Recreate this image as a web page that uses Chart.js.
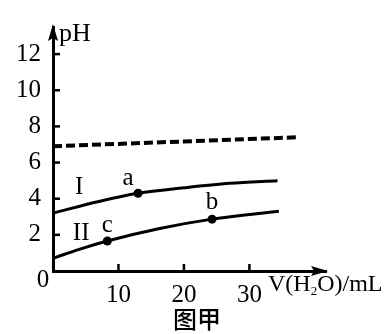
<!DOCTYPE html>
<html>
<head>
<meta charset="utf-8">
<script src="https://cdn.jsdelivr.net/npm/chart.js@4/dist/chart.umd.min.js"></script>
<style>
html,body{margin:0;padding:0;background:#fff;}
#wrap{width:388px;height:334px;position:relative;}
</style>
</head>
<body>
<div id="wrap"><canvas id="c" width="388" height="334"></canvas></div>
<script>
// ---- data ----
const volI  = [0, 7, 13, 20, 27, 34.3];
const phI   = [3.2, 3.85, 4.3, 4.6, 4.85, 5.0];
const volII = [0, 4, 8.3, 16.3, 24.3, 34.5];
const phII  = [0.7, 1.2, 1.66, 2.35, 2.87, 3.3];
const neutralVol = [0, 37.4];
const neutralPh  = [6.9, 7.4];
const markNames = ['a', 'b', 'c'];
const markVol   = [13, 24.3, 8.3];
const markPh    = [4.3, 2.87, 1.66];
const curveNames = ['I', 'II'];
const curveLabelVol = [4.0, 4.3];
const curveLabelPh  = [4.6, 2.1];
const xTicks = [10, 20, 30];
const yTicks = [0, 2, 4, 6, 8, 10, 12];
const xMax = 41.7, yMax = 13.5;
const yTitle = 'pH';
const figTitle = '图甲';

const toPts = (xs, ys) => xs.map((x, i) => ({x: x, y: ys[i]}));
const SERIF = '"Liberation Serif", "DejaVu Serif", serif';

const decor = {
  id: 'decor',
  afterDraw(chart) {
    const ctx = chart.ctx;
    const xs = chart.scales.x, ys = chart.scales.y;
    const L = xs.left, B = ys.bottom, T = ys.top, R = xs.right;
    ctx.save();
    ctx.strokeStyle = '#000'; ctx.fillStyle = '#000';
    ctx.lineWidth = 2.5; ctx.lineCap = 'butt';
    // inward tick marks
    yTicks.forEach(v => {
      if (v === 0) return;
      const py = ys.getPixelForValue(v);
      ctx.beginPath(); ctx.moveTo(L, py); ctx.lineTo(L + 7, py); ctx.stroke();
    });
    xTicks.forEach(v => {
      const px = xs.getPixelForValue(v);
      ctx.beginPath(); ctx.moveTo(px, B); ctx.lineTo(px, B - 7); ctx.stroke();
    });
    // arrows
    ctx.beginPath();
    ctx.moveTo(L, T - 3); ctx.lineTo(L - 5, T + 14); ctx.lineTo(L, T + 11); ctx.lineTo(L + 5, T + 14);
    ctx.closePath(); ctx.fill();
    ctx.beginPath();
    ctx.moveTo(R + 2, B); ctx.lineTo(R - 15, B - 5); ctx.lineTo(R - 12, B); ctx.lineTo(R - 15, B + 5);
    ctx.closePath(); ctx.fill();
    // texts
    ctx.textBaseline = 'middle';
    ctx.font = '26px ' + SERIF;
    ctx.textAlign = 'left';
    ctx.fillText(yTitle, L + 6, T + 7);
    // origin 0
    ctx.textAlign = 'center';
    ctx.font = '25px ' + SERIF;
    ctx.fillText('0', L - 10, B + 9);
    // x title V(H2O)/mL
    ctx.textAlign = 'left';
    let x0 = R - 58, yy = B + 14;
    ctx.font = '24px ' + SERIF;
    ctx.fillText('V(H', x0, yy); x0 += ctx.measureText('V(H').width;
    ctx.font = '13px ' + SERIF;
    ctx.fillText('2', x0, yy + 7); x0 += ctx.measureText('2').width;
    ctx.font = '24px ' + SERIF;
    ctx.fillText('O)/mL', x0, yy);
    // curve names
    ctx.textAlign = 'center';
    ctx.font = '25px ' + SERIF;
    curveNames.forEach((n, i) => {
      ctx.fillText(n, xs.getPixelForValue(curveLabelVol[i]), ys.getPixelForValue(curveLabelPh[i]));
    });
    // mark names
    const offs = {a: [-10, -15], b: [0, -17], c: [0, -16]};
    markNames.forEach((n, i) => {
      const o = offs[n];
      ctx.fillText(n, xs.getPixelForValue(markVol[i]) + o[0], ys.getPixelForValue(markPh[i]) + o[1]);
    });
    // figure caption
    ctx.font = '500 24px "Noto Sans CJK SC", sans-serif';
    ctx.fillText(figTitle, 197, 319);
    ctx.restore();
  }
};

new Chart(document.getElementById('c'), {
  type: 'scatter',
  data: {
    datasets: [
      {data: toPts(volI, phI), showLine: true, borderColor: '#000', borderWidth: 3, pointRadius: 0, cubicInterpolationMode: 'monotone'},
      {data: toPts(volII, phII), showLine: true, borderColor: '#000', borderWidth: 3, pointRadius: 0, cubicInterpolationMode: 'monotone'},
      {data: toPts(neutralVol, neutralPh), showLine: true, borderColor: '#000', borderWidth: 4, borderDash: [9, 4], pointRadius: 0},
      {data: toPts(markVol, markPh), showLine: false, pointRadius: 4.5, backgroundColor: '#000', borderColor: '#000', borderWidth: 0}
    ]
  },
  options: {
    responsive: false,
    animation: false,
    events: [],
    layout: {padding: {left: 0, top: 27, right: 62, bottom: 0}},
    plugins: {legend: {display: false}, tooltip: {enabled: false}},
    scales: {
      x: {
        type: 'linear', min: 0, max: xMax,
        grid: {display: false, drawTicks: false},
        border: {display: true, color: '#000', width: 3},
        afterBuildTicks: s => { s.ticks = xTicks.map(v => ({value: v})); },
        afterFit: s => { s.height = 63; },
        ticks: {color: '#000', padding: 9, font: {family: SERIF, size: 25}, maxRotation: 0}
      },
      y: {
        type: 'linear', min: 0, max: yMax,
        grid: {display: false, drawTicks: false},
        border: {display: true, color: '#000', width: 3},
        afterBuildTicks: s => { s.ticks = yTicks.map(v => ({value: v})); },
        afterFit: s => { s.width = 53; },
        ticks: {color: '#000', padding: 12, font: {family: SERIF, size: 25},
                callback: v => v === 0 ? '' : String(v)}
      }
    }
  },
  plugins: [decor]
});
</script>
</body>
</html>
